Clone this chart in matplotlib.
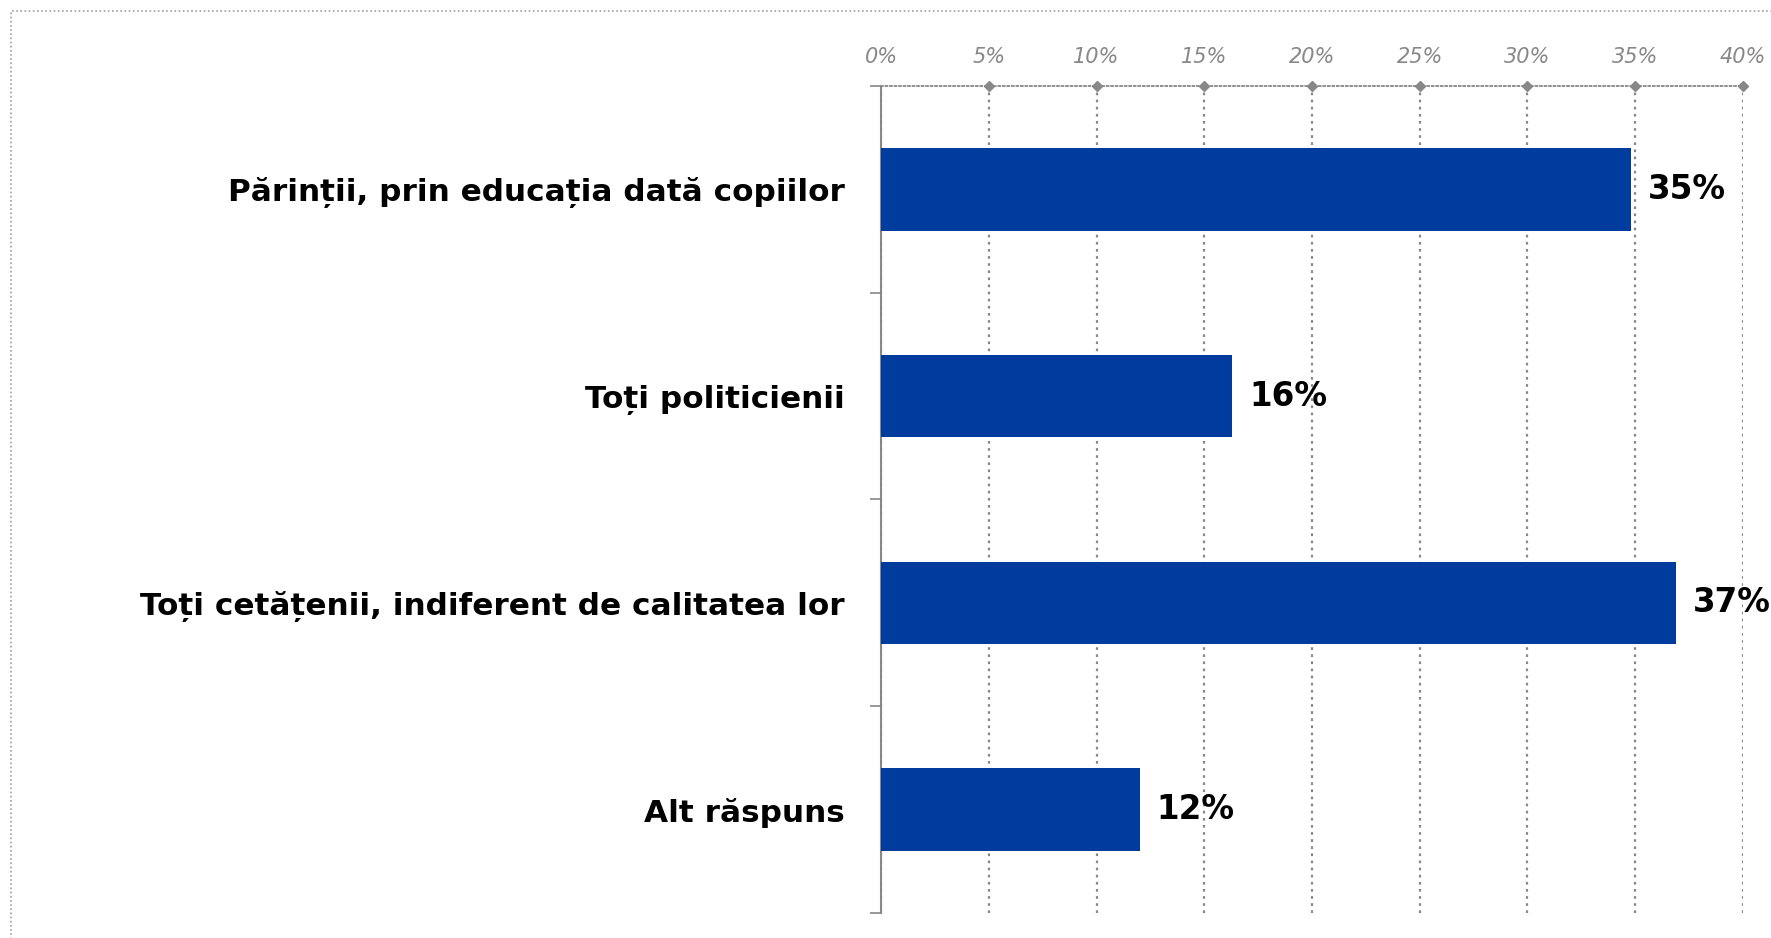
import numpy as np
import matplotlib.pyplot as plt
from matplotlib.patches import Rectangle

# date din grafic
categorii = ['Părinții, prin educația dată copiilor',
             'Toți politicienii',
             'Toți cetățenii, indiferent de calitatea lor',
             'Alt răspuns']
valori = [34.8, 16.3, 36.9, 12.0]
etichete = ['35%', '16%', '37%', '12%']
x_ticks = [0, 5, 10, 15, 20, 25, 30, 35, 40]

plt.rcParams['font.family'] = ['DejaVu Sans']

albastru = '#003C9E'
gri = '#888888'

fig = plt.figure(figsize=(17.71, 9.38), dpi=100)
ax = fig.add_axes([0.4975, 0.0267, 0.4866, 0.8816])

y = np.arange(len(categorii))
ax.barh(y, valori, height=0.40, color=albastru, zorder=3)

for yi, v, t in zip(y, valori, etichete):
    ax.text(v + 0.8, yi, t, va='center', ha='left', fontsize=23.5,
            fontweight='bold', color='black', zorder=4, clip_on=False)

ax.set_xlim(0, 40)
ax.set_ylim(3.5, -0.5)

# axa x sus
ax.xaxis.tick_top()
ax.set_xticks(x_ticks)
ax.set_xticklabels([f'{t}%' for t in x_ticks], fontsize=15, style='italic', color=gri)
ax.tick_params(axis='x', length=0, pad=14)
ax.grid(axis='x', linestyle=(0, (1.2, 2)), color=gri, linewidth=1.6, zorder=0)
ax.plot(x_ticks[1:], [-0.5] * (len(x_ticks) - 1), linestyle='none', marker='D',
        markersize=5, color=gri, clip_on=False, zorder=5)

# axa y
ax.set_yticks(y)
ax.set_yticklabels(categorii, fontsize=22.4, fontweight='bold')
ax.tick_params(axis='y', which='major', length=0, pad=26)
ax.set_yticks(np.arange(-0.5, 4.0, 1.0), minor=True)
ax.tick_params(axis='y', which='minor', length=8, width=1.2, color=gri, direction='out')

for s in ['right', 'bottom']:
    ax.spines[s].set_visible(False)
ax.spines['top'].set_linestyle((0, (1, 1.5)))
ax.spines['top'].set_color(gri)
ax.spines['top'].set_linewidth(1.3)
ax.spines['left'].set_color(gri)
ax.spines['left'].set_linewidth(1.5)

# chenar punctat
fig.patches.append(Rectangle((0.0062, -0.01), 1.1, 0.9994 - 0.0107 + 0.01,
                             transform=fig.transFigure, fill=False,
                             edgecolor='#A0A0A0', linestyle=(0, (1, 1.5)),
                             linewidth=1.2))

fig.savefig('out.png', dpi=100)
